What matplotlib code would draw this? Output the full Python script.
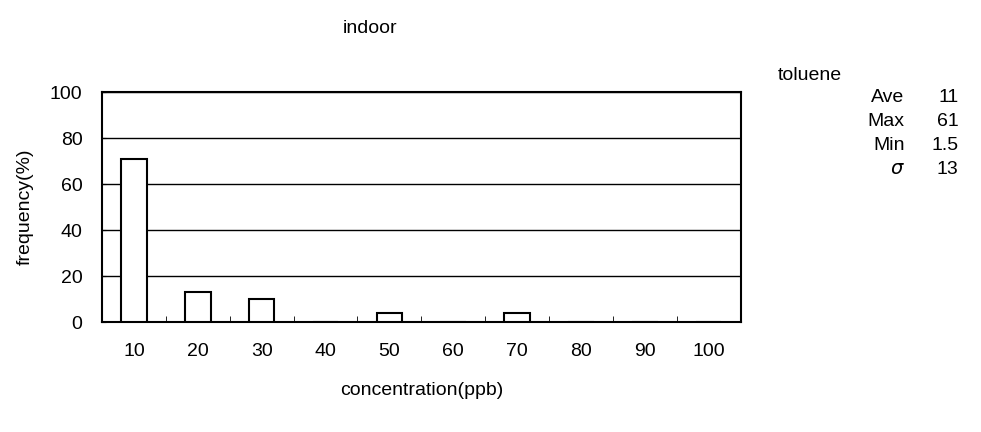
import matplotlib.pyplot as plt
import numpy as np

# Concentration bins (ppb) and frequency (%)
categories = ['10', '20', '30', '40', '50', '60', '70', '80', '90', '100']
frequency = [71, 13, 10, 0, 4, 0, 4, 0, 0, 0]

stat_names = ['Ave', 'Max', 'Min', r'$\sigma$']
stat_values = ['11', '61', '1.5', '13']

plt.rcParams['font.family'] = ['Liberation Sans Narrow', 'Liberation Sans', 'DejaVu Sans']
plt.rcParams['font.size'] = 14
plt.rcParams['mathtext.fontset'] = 'dejavusans'

fig = plt.figure(figsize=(9.81, 4.32), dpi=100)
ax = fig.add_axes([0.104, 0.2546, 0.651, 0.532])

x = np.arange(len(categories))
ax.bar(x, frequency, width=0.4, color='white', edgecolor='black', linewidth=1.5, zorder=3)

ax.set_xlim(-0.5, len(categories) - 0.5)
ax.set_ylim(0, 100)
ax.set_yticks(np.arange(0, 101, 20))
ax.set_xticks(x)
ax.set_xticklabels(categories)
ax.set_xticks(x[:-1] + 0.5, minor=True)
ax.tick_params(axis='x', which='major', length=0, pad=15)
ax.tick_params(axis='x', which='minor', direction='in', length=4)
ax.tick_params(axis='y', direction='in', length=3, pad=14)
ax.yaxis.grid(True, color='black', linewidth=1.0, zorder=0)

for spine in ax.spines.values():
    spine.set_linewidth(1.5)

ax.set_xlabel('concentration(ppb)', labelpad=16)
ax.set_ylabel('frequency(%)', labelpad=12)
fig.text(0.377, 0.935, 'indoor', ha='center', va='center')

# Summary statistics on the right
fig.text(0.793, 0.826, 'toluene', ha='left', va='center')
for i, (name, val) in enumerate(zip(stat_names, stat_values)):
    yy = 0.775 - i * 0.056
    fig.text(0.922, yy, name, ha='right', va='center')
    fig.text(0.977, yy, val, ha='right', va='center')

fig.savefig('out.png', dpi=100)
